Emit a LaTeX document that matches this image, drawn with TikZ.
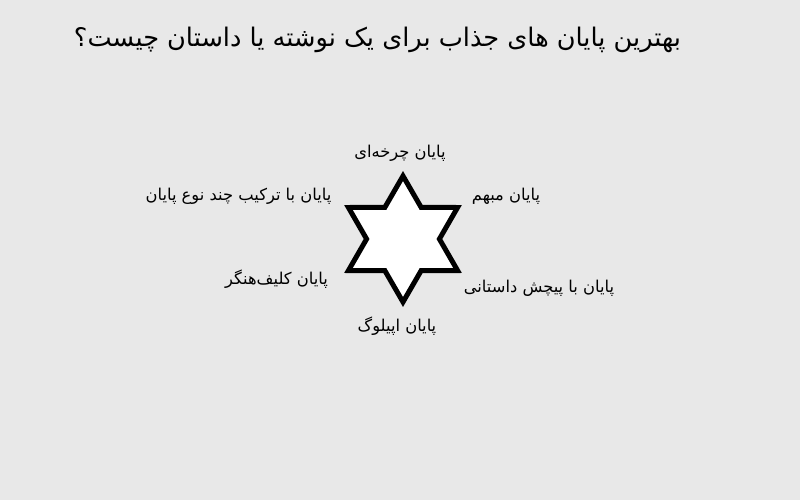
\documentclass[tikz,border=0pt]{standalone}
\usepackage{fontspec}
\usetikzlibrary{calc}
\newfontfamily\arabicfont[Script=Arabic]{DejaVu Sans}
\TeXXeTstate=1
\definecolor{bgc}{RGB}{232,232,232}
\tikzset{
  lbl/.style={inner sep=0pt, font=\arabicfont\fontsize{16.3}{18}\selectfont, text=black},
  ttl/.style={inner sep=0pt, font=\arabicfont\fontsize{25.6}{28}\selectfont, text=black},
  starline/.style={draw=black, line width=5pt, fill=white, line join=miter}
}
\begin{document}
\begin{tikzpicture}[x=1pt,y=-1pt]
\fill[bgc] (0,0) rectangle (800,500);
\useasboundingbox (0,0) rectangle (800,500);
\node[ttl] (title) at (377.5,40) {\beginR بهترین پایان های جذاب برای یک نوشته یا داستان چیست؟\endR};
\coordinate (c) at (403,239);
\draw[starline] ($(c)+(0:36.4)$) -- ($(c)+(30:63)$) -- ($(c)+(60:36.4)$) -- ($(c)+(90:63)$)
  -- ($(c)+(120:36.4)$) -- ($(c)+(150:63)$) -- ($(c)+(180:36.4)$) -- ($(c)+(210:63)$)
  -- ($(c)+(240:36.4)$) -- ($(c)+(270:63)$) -- ($(c)+(300:36.4)$) -- ($(c)+(330:63)$) -- cycle;
\node[lbl] (l1) at (400,153) {\beginR پایان چرخه‌ای\endR};
\node[lbl] (l2) at (506,196) {\beginR پایان مبهم\endR};
\node[lbl] (l3) at (238.5,196) {\beginR پایان با ترکیب چند نوع پایان\endR};
\node[lbl] (l4) at (276.5,279) {\beginR پایان کلیف‌هنگر\endR};
\node[lbl] (l5) at (539,288) {\beginR پایان با پیچش داستانی\endR};
\node[lbl] (l6) at (397,326) {\beginR پایان اپیلوگ\endR};
\end{tikzpicture}
\end{document}
